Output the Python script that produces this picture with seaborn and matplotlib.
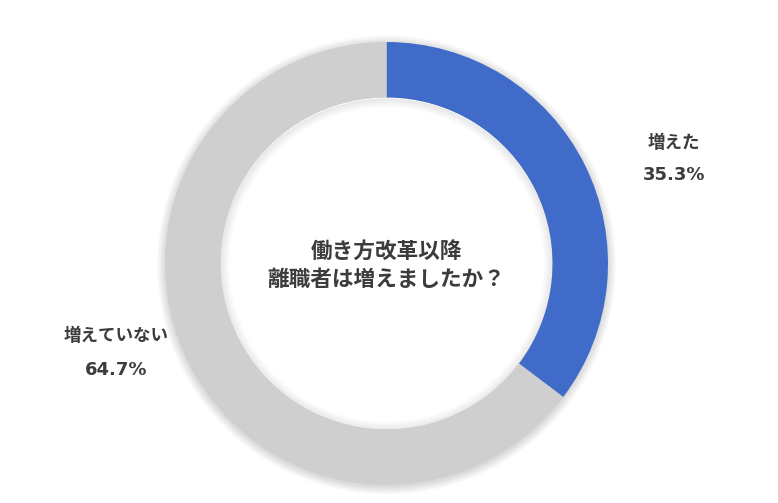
import matplotlib
matplotlib.use("Agg")
import matplotlib.pyplot as plt
import seaborn as sns
from matplotlib.patches import Circle, Wedge

categories = ["増えた", "増えていない"]
values = [35.3, 64.7]
pct_labels = ["35.3%", "64.7%"]
colors = ["#406BC9", "#D0CFD0"]
center_title = "働き方改革以降\n離職者は増えましたか？"

sns.set_theme(style="white")
plt.rcParams['font.family'] = ['Noto Sans CJK JP', 'DejaVu Sans']

W, H = 778, 503
fig = plt.figure(figsize=(W / 100, H / 100), dpi=100)
ax = fig.add_axes([0, 0, 1, 1])

cx, cy = 386.5, H - 263.5
R = 221.5
width = 55.5
r_in = R - width

# soft shadow outside the ring
for i in range(12):
    ax.add_patch(Wedge((cx, cy - 1.5), R + 0.5 + i * 0.7, 0, 360, width=width + 1 + i * 1.4,
                       facecolor="#000000", alpha=0.011, edgecolor="none", zorder=0))

wedges, _ = ax.pie(values, colors=colors, startangle=90, counterclock=False,
                   center=(cx, cy), radius=R,
                   wedgeprops=dict(width=width, edgecolor="none"))
for w in wedges:
    w.set_zorder(2)
ax.add_patch(Circle((cx, cy), r_in, facecolor="white", edgecolor="none", zorder=1.5))

# soft shadow inside the hole
for i in range(12):
    ax.add_patch(Wedge((cx, cy - 1.0), r_in, 0, 360, width=0.8 + i * 0.75,
                       facecolor="#000000", alpha=0.009, edgecolor="none", zorder=1.8))

ax.set_xlim(0, W)
ax.set_ylim(0, H)
ax.set_aspect("equal")
ax.axis("off")

txt_color = "#3C3C3C"
label_pos = [(674, 143, 175), (116, 336, 370)]
for cat, pct, (x, y1, y2) in zip(categories, pct_labels, label_pos):
    ax.text(x, H - y1, cat, ha="center", va="center", fontsize=12.6,
            fontweight="bold", color=txt_color)
    ax.text(x, H - y2, pct, ha="center", va="center", fontsize=13,
            fontweight="bold", color=txt_color, family=['DejaVu Sans'])

ax.text(cx, H - 266, center_title, ha="center", va="center", fontsize=15.6,
        fontweight="bold", color=txt_color, linespacing=1.25)

fig.savefig("out.png", dpi=100, facecolor="white")
